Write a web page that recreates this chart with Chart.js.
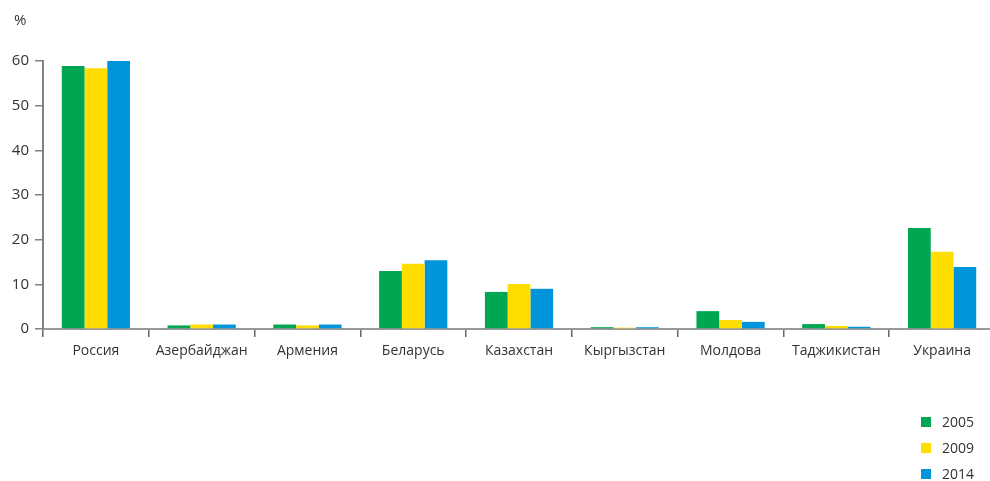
<!DOCTYPE html>
<html>
<head>
<meta charset="utf-8">
<script src="https://cdn.jsdelivr.net/npm/chart.js@4"></script>
<style>
  body { margin: 0; background: #fff; overflow: hidden; }
  #wrap { width: 995px; height: 481px; position: relative; }
</style>
</head>
<body>
<div id="wrap"><canvas id="grafica"></canvas></div>
<script>
// Страны по оси X
const strany = ["Россия", "Азербайджан", "Армения", "Беларусь", "Казахстан", "Кыргызстан", "Молдова", "Таджикистан", "Украина"];
// Доли, %
const dannye2005 = [58.9, 0.8, 1.0, 13.0, 8.3, 0.4, 4.0, 1.1, 22.6];
const dannye2009 = [58.4, 1.0, 0.8, 14.6, 10.1, 0.3, 2.0, 0.7, 17.3];
const dannye2014 = [60.0, 1.0, 1.0, 15.4, 9.0, 0.4, 1.6, 0.5, 13.9];
const metkiY = [0, 10, 20, 30, 40, 50, 60];

const shrift = '"Open Sans", "Noto Sans", sans-serif';
const tekst = '#333';
const os = '#808080';

// легенда столбиком внизу справа и знак % над осью
const podpisi = {
  id: 'podpisi',
  afterDraw(chart) {
    const ctx = chart.ctx;
    ctx.save();
    ctx.fillStyle = tekst;
    ctx.font = '15px ' + shrift;
    ctx.textBaseline = 'middle';
    ctx.fillText('%', 14, 21);
    ctx.font = '14px ' + shrift;
    chart.data.datasets.forEach((ds, i) => {
      const y = 422 + i * 26;
      ctx.fillStyle = ds.backgroundColor;
      ctx.fillRect(921, y - 5, 10, 10);
      ctx.fillStyle = tekst;
      ctx.fillText(ds.label, 942, y + 1);
    });
    ctx.restore();
  }
};

new Chart(document.querySelector('#grafica'), {
  type: 'bar',
  data: {
    labels: strany,
    datasets: [
      { label: '2005', data: dannye2005, backgroundColor: '#00A651' },
      { label: '2009', data: dannye2009, backgroundColor: '#FFDD00' },
      { label: '2014', data: dannye2014, backgroundColor: '#0095DA' }
    ]
  },
  options: {
    responsive: true,
    maintainAspectRatio: false,
    animation: false,
    categoryPercentage: 0.645,
    barPercentage: 1.0,
    layout: { padding: { top: 61, right: 0, bottom: 112, left: 0 } },
    plugins: {
      legend: { display: false },
      tooltip: { enabled: false }
    },
    scales: {
      x: {
        grid: { offset: true, drawOnChartArea: false, color: '#666', lineWidth: 1.5, tickLength: 8 },
        border: { color: '#999', width: 2 },
        ticks: { color: tekst, font: { family: shrift, size: 14 }, padding: 6, maxRotation: 0 },
        afterFit(scale) { scale.height = 40; }
      },
      y: {
        min: 0,
        max: 60,
        afterBuildTicks(scale) { scale.ticks = metkiY.map(v => ({ value: v })); },
        grid: { drawOnChartArea: false, color: os, lineWidth: 1.5, tickLength: 8 },
        border: { color: os, width: 2 },
        ticks: { color: tekst, font: { family: shrift, size: 15 }, padding: 6 },
        afterFit(scale) { scale.width = 43; }
      }
    }
  },
  plugins: [podpisi]
});
</script>
</body>
</html>
